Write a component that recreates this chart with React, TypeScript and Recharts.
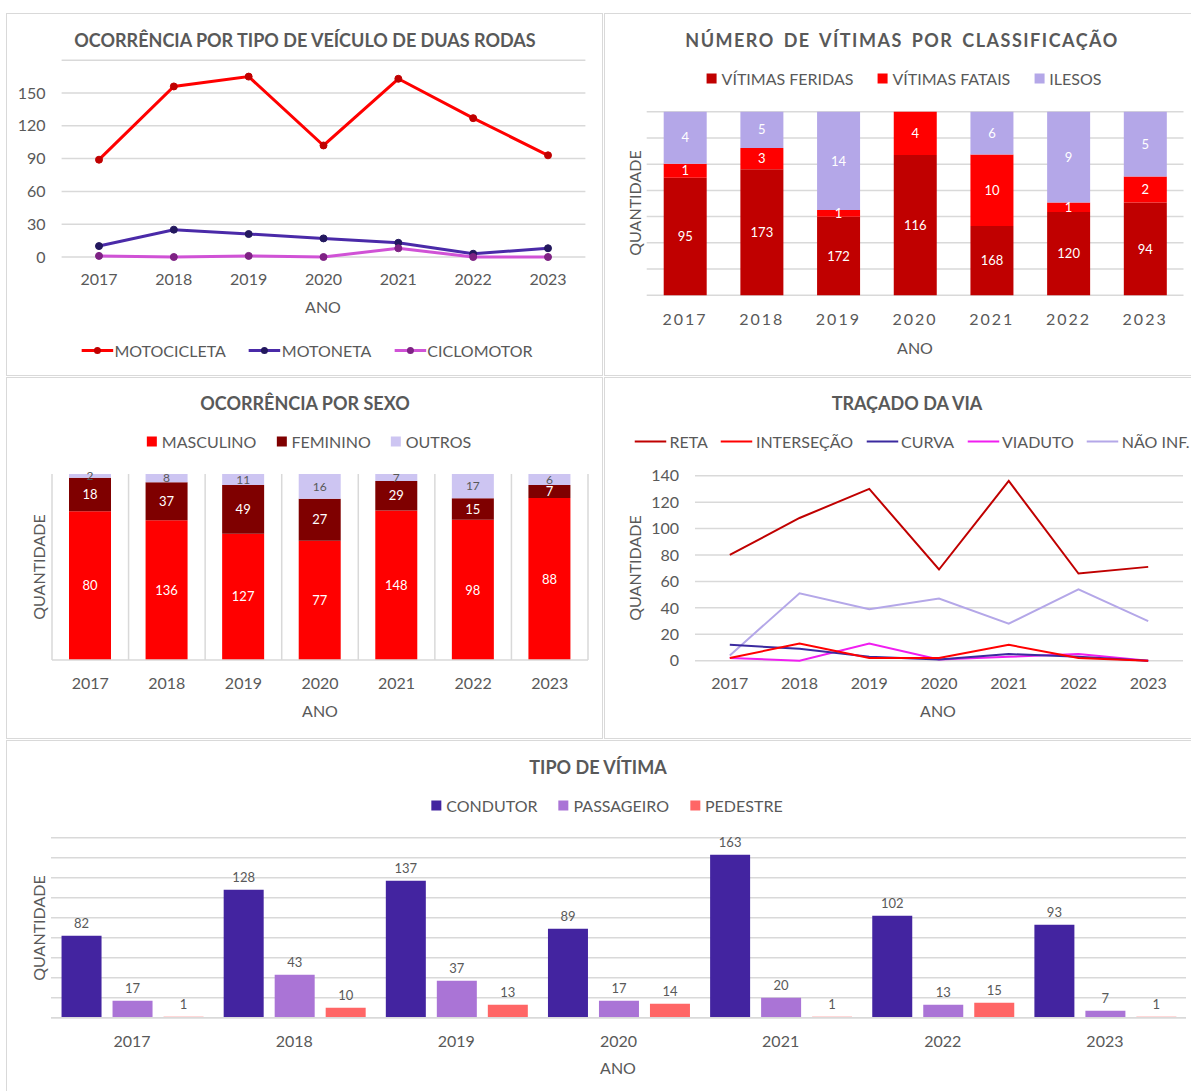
import React from 'react';
import { LineChart, Line, BarChart, Bar, XAxis, YAxis, CartesianGrid, LabelList } from 'recharts';

const ANOS = ['2017', '2018', '2019', '2020', '2021', '2022', '2023'];

// ocorrência por tipo de veículo
const motocicleta = [89, 156, 165, 102, 163, 127, 93];
const motoneta = [10, 25, 21, 17, 13, 3, 8];
const ciclomotor = [1, 0, 1, 0, 8, 0, 0];
const veiculoTicks = [0, 30, 60, 90, 120, 150];

// vítimas por classificação: altura de cada faixa (%) e rótulos
const feridasPct = [64.0, 68.6, 42.8, 76.4, 37.8, 45.4, 50.5];
const fataisPct = [7.6, 11.6, 3.6, 23.6, 38.9, 5.1, 14.2];
const ilesosPct = [28.4, 19.8, 53.6, 0, 23.3, 49.5, 35.3];
const feridasN = [95, 173, 172, 116, 168, 120, 94];
const fataisN = [1, 3, 1, 4, 10, 1, 2];
const ilesosN = [4, 5, 14, null, 6, 9, 5];
const classTicks = [0, 14.29, 28.57, 42.86, 57.14, 71.43, 85.71, 100];

// ocorrência por sexo
const masculino = [80, 136, 127, 77, 148, 98, 88];
const feminino = [18, 37, 49, 27, 29, 15, 7];
const outros = [2, 8, 11, 16, 7, 17, 6];

// traçado da via
const reta = [80, 108, 130, 69, 136, 66, 71];
const intersecao = [2, 13, 2, 2, 12, 2, 0];
const curva = [12, 9, 3, 1, 5, 3, 0];
const viaduto = [2, 0, 13, 1, 3, 5, 0];
const naoInf = [4, 51, 39, 47, 28, 54, 30];
const tracadoTicks = [0, 20, 40, 60, 80, 100, 120, 140];

// tipo de vítima
const condutor = [82, 128, 137, 89, 163, 102, 93];
const passageiro = [17, 43, 37, 17, 20, 13, 7];
const pedestre = [1, 10, 13, 14, 1, 15, 1];
const tipoTicks = [0, 20, 40, 60, 80, 100, 120, 140, 160, 180];

const veiculoData = ANOS.map((ano, i) => ({ ano, motocicleta: motocicleta[i], motoneta: motoneta[i], ciclomotor: ciclomotor[i] }));
const classData = ANOS.map((ano, i) => ({
  ano, feridas: feridasPct[i], fatais: fataisPct[i], ilesos: ilesosPct[i],
  feridasN: feridasN[i], fataisN: fataisN[i], ilesosN: ilesosN[i],
}));
const sexoData = ANOS.map((ano, i) => ({ ano, masculino: masculino[i], feminino: feminino[i], outros: outros[i] }));
const tracadoData = ANOS.map((ano, i) => ({
  ano, reta: reta[i], intersecao: intersecao[i], curva: curva[i], viaduto: viaduto[i], naoInf: naoInf[i],
}));
const tipoData = ANOS.map((ano, i) => ({ ano, condutor: condutor[i], passageiro: passageiro[i], pedestre: pedestre[i] }));

const TXT = '#595959';
const GRID = '#d9d9d9';
const FONT = 'Lato, "Open Sans", sans-serif';

type LegItem = { label: string; color: string; kind: 'square' | 'line' | 'lineDot'; dot?: string };

const LegendRow = ({ items, cx, cy, gap }: { items: LegItem[]; cx: number; cy: number; gap: number }) => (
  <div style={{ position: 'absolute', left: cx, top: cy, transform: 'translate(-50%, -50%)', display: 'flex', alignItems: 'center', gap, whiteSpace: 'nowrap', fontSize: 16, color: TXT }}>
    {items.map((it) => (
      <div key={it.label} style={{ display: 'flex', alignItems: 'center' }}>
        {it.kind === 'square' ? (
          <span style={{ display: 'inline-block', width: 10, height: 10, background: it.color, marginRight: 5 }} />
        ) : (
          <svg width={32} height={10} style={{ marginRight: it.kind === 'lineDot' ? 1 : 3 }}>
            <line x1={0} y1={5} x2={32} y2={5} stroke={it.color} strokeWidth={it.kind === 'lineDot' ? 3 : 2} />
            {it.kind === 'lineDot' && <circle cx={16} cy={5} r={3.5} fill={it.dot} />}
          </svg>
        )}
        <span>{it.label}</span>
      </div>
    ))}
  </div>
);

const Text = ({ x, y, children, bold, size = 16, spacing, rotate }: any) => (
  <div style={{
    position: 'absolute', left: x, top: y, whiteSpace: 'nowrap', color: TXT, fontSize: size,
    fontWeight: bold ? 700 : 400, letterSpacing: spacing, wordSpacing: spacing ? spacing * 2 : undefined,
    transform: `translate(-50%, -50%)${rotate ? ' rotate(-90deg)' : ''}`,
  }}>{children}</div>
);

const Panel = ({ left, top, width, height }: any) => (
  <div style={{ position: 'absolute', left, top, width, height, boxSizing: 'border-box', border: `1.5px solid ${GRID}` }} />
);

const at = (left: number, top: number): React.CSSProperties => ({ position: 'absolute', left, top });

const categoryBounds = ({ offset }: any) => {
  const n = ANOS.length;
  return Array.from({ length: n + 1 }, (_, i) => offset.left + (i * offset.width) / n);
};

export default function App() {
  const tick16 = { fill: TXT, fontSize: 16 };
  return (
    <div style={{ position: 'absolute', left: 0, top: 0, width: 1191, height: 1091, overflow: 'hidden', background: '#fff', fontFamily: FONT }}>
      <Panel left={6} top={13} width={597} height={363} />
      <Panel left={604} top={13} width={600} height={363} />
      <Panel left={6} top={377} width={597} height={362} />
      <Panel left={604} top={377} width={600} height={362} />
      <Panel left={6} top={740} width={1200} height={400} />

      {/* 1 - tipo de veículo */}
      <div style={at(6, 13)}>
        <LineChart width={598} height={364} data={veiculoData} margin={{ top: 47.2, right: 18.6, bottom: 90, left: 0 }}>
          <CartesianGrid stroke={GRID} strokeWidth={1.5} vertical={false} />
          <XAxis dataKey="ano" height={30} interval={0} axisLine={false} tickLine={false} tickSize={0} tickMargin={17} tick={tick16} padding={{ left: 37.4, right: 37.4 }} />
          <YAxis width={55.6} interval={0} domain={[0, 180]} ticks={veiculoTicks} axisLine={false} tickLine={false} tickSize={0} tickMargin={16} tick={tick16} />
          <Line dataKey="motocicleta" stroke="#ff0000" strokeWidth={3} dot={{ r: 3.5, fill: '#c00000', stroke: '#c00000', strokeWidth: 1 }} isAnimationActive={false} />
          <Line dataKey="motoneta" stroke="#4a2aa8" strokeWidth={3} dot={{ r: 3.5, fill: '#23185e', stroke: '#23185e', strokeWidth: 1 }} isAnimationActive={false} />
          <Line dataKey="ciclomotor" stroke="#d052d6" strokeWidth={3} dot={{ r: 3.5, fill: '#7e2284', stroke: '#7e2284', strokeWidth: 1 }} isAnimationActive={false} />
        </LineChart>
      </div>
      <Text x={305} y={40} bold size={18}>OCORRÊNCIA POR TIPO DE VEÍCULO DE DUAS RODAS</Text>
      <Text x={323} y={306}>ANO</Text>
      <LegendRow cx={307} cy={350} gap={23} items={[
        { label: 'MOTOCICLETA', color: '#ff0000', kind: 'lineDot', dot: '#c00000' },
        { label: 'MOTONETA', color: '#4a2aa8', kind: 'lineDot', dot: '#23185e' },
        { label: 'CICLOMOTOR', color: '#d052d6', kind: 'lineDot', dot: '#7e2284' },
      ]} />

      {/* 2 - vítimas por classificação */}
      <div style={at(604, 13)}>
        <BarChart width={590} height={364} data={classData} margin={{ top: 98.7, right: 10.5, bottom: 51.7, left: 42.7 }} barSize={43}>
          <CartesianGrid stroke={GRID} strokeWidth={1.5} vertical={false} />
          <XAxis dataKey="ano" height={30} interval={0} axisLine={false} tickLine={false} tickSize={0} tickMargin={18} tick={{ fill: TXT, fontSize: 16, letterSpacing: 2 }} />
          <YAxis hide interval={0} domain={[0, 100]} ticks={classTicks} />
          <Bar dataKey="feridas" stackId="c" fill="#c00000" isAnimationActive={false}>
            <LabelList dataKey="feridasN" position="center" fill="#fff" fontSize={13} />
          </Bar>
          <Bar dataKey="fatais" stackId="c" fill="#ff0000" isAnimationActive={false}>
            <LabelList dataKey="fataisN" position="center" fill="#fff" fontSize={13} />
          </Bar>
          <Bar dataKey="ilesos" stackId="c" fill="#b4a7e8" isAnimationActive={false}>
            <LabelList dataKey="ilesosN" position="center" fill="#fff" fontSize={13} />
          </Bar>
        </BarChart>
      </div>
      <Text x={902} y={40} bold size={18} spacing={1.5}>NÚMERO DE VÍTIMAS POR CLASSIFICAÇÃO</Text>
      <Text x={915} y={347}>ANO</Text>
      <Text x={634} y={203} rotate>QUANTIDADE</Text>
      <LegendRow cx={904} cy={78} gap={24} items={[
        { label: 'VÍTIMAS FERIDAS', color: '#c00000', kind: 'square' },
        { label: 'VÍTIMAS FATAIS', color: '#ff0000', kind: 'square' },
        { label: 'ILESOS', color: '#b4a7e8', kind: 'square' },
      ]} />

      {/* 3 - sexo */}
      <div style={at(6, 377)}>
        <BarChart width={598} height={363} data={sexoData} stackOffset="expand" margin={{ top: 97, right: 16, bottom: 50, left: 46 }} barSize={42}>
          <CartesianGrid stroke={GRID} strokeWidth={1.5} horizontal={false} verticalCoordinatesGenerator={categoryBounds} />
          <XAxis dataKey="ano" height={30} interval={0} axisLine={{ stroke: GRID, strokeWidth: 1.5 }} tickLine={false} tickSize={0} tickMargin={18} tick={tick16} />
          <YAxis hide domain={[0, 1]} />
          <Bar dataKey="masculino" stackId="s" fill="#ff0000" isAnimationActive={false}>
            <LabelList dataKey="masculino" position="center" fill="#fff" fontSize={13} />
          </Bar>
          <Bar dataKey="feminino" stackId="s" fill="#7f0000" isAnimationActive={false}>
            <LabelList dataKey="feminino" position="center" fill="#fff" fontSize={13} />
          </Bar>
          <Bar dataKey="outros" stackId="s" fill="#cdc5f2" isAnimationActive={false}>
            <LabelList dataKey="outros" position="center" fill={TXT} fontSize={12} />
          </Bar>
        </BarChart>
      </div>
      <Text x={305} y={403} bold size={18}>OCORRÊNCIA POR SEXO</Text>
      <Text x={320} y={710}>ANO</Text>
      <Text x={38} y={567} rotate>QUANTIDADE</Text>
      <LegendRow cx={309} cy={441} gap={20} items={[
        { label: 'MASCULINO', color: '#ff0000', kind: 'square' },
        { label: 'FEMININO', color: '#7f0000', kind: 'square' },
        { label: 'OUTROS', color: '#cdc5f2', kind: 'square' },
      ]} />

      {/* 4 - traçado da via */}
      <div style={at(604, 377)}>
        <LineChart width={590} height={363} data={tracadoData} margin={{ top: 98.7, right: 11, bottom: 49.3, left: 0 }}>
          <CartesianGrid stroke={GRID} strokeWidth={1.5} vertical={false} />
          <XAxis dataKey="ano" height={30} interval={0} axisLine={false} tickLine={false} tickSize={0} tickMargin={17} tick={tick16} padding={{ left: 34.8, right: 34.8 }} />
          <YAxis width={91} interval={0} domain={[0, 140]} ticks={tracadoTicks} axisLine={false} tickLine={false} tickSize={0} tickMargin={16} tick={tick16} />
          <Line dataKey="naoInf" stroke="#b4a7e8" strokeWidth={2} dot={false} isAnimationActive={false} />
          <Line dataKey="viaduto" stroke="#f01ef0" strokeWidth={2} dot={false} isAnimationActive={false} />
          <Line dataKey="curva" stroke="#3b2a9f" strokeWidth={2} dot={false} isAnimationActive={false} />
          <Line dataKey="intersecao" stroke="#ff0000" strokeWidth={2} dot={false} isAnimationActive={false} />
          <Line dataKey="reta" stroke="#c00000" strokeWidth={2} dot={false} isAnimationActive={false} />
        </LineChart>
      </div>
      <Text x={907} y={403} bold size={18}>TRAÇADO DA VIA</Text>
      <Text x={938} y={710}>ANO</Text>
      <Text x={634} y={568} rotate>QUANTIDADE</Text>
      <LegendRow cx={912} cy={441} gap={13} items={[
        { label: 'RETA', color: '#c00000', kind: 'line' },
        { label: 'INTERSEÇÃO', color: '#ff0000', kind: 'line' },
        { label: 'CURVA', color: '#3b2a9f', kind: 'line' },
        { label: 'VIADUTO', color: '#f01ef0', kind: 'line' },
        { label: 'NÃO INF.', color: '#b4a7e8', kind: 'line' },
      ]} />

      {/* 5 - tipo de vítima */}
      <div style={at(6, 740)}>
        <BarChart width={1188} height={351} data={tipoData} margin={{ top: 97.7, right: 8, bottom: 43.3, left: 45 }} barCategoryGap="6.5%" barGap={11}>
          <CartesianGrid stroke={GRID} strokeWidth={1.5} vertical={false} />
          <XAxis dataKey="ano" height={30} interval={0} axisLine={{ stroke: GRID, strokeWidth: 1.5 }} tickLine={false} tickSize={0} tickMargin={17.5} tick={tick16} />
          <YAxis hide interval={0} domain={[0, 180]} ticks={tipoTicks} />
          <Bar dataKey="condutor" fill="#4324a0" isAnimationActive={false}>
            <LabelList dataKey="condutor" position="top" offset={8} fill={TXT} fontSize={13} />
          </Bar>
          <Bar dataKey="passageiro" fill="#aa74d6" isAnimationActive={false}>
            <LabelList dataKey="passageiro" position="top" offset={8} fill={TXT} fontSize={13} />
          </Bar>
          <Bar dataKey="pedestre" fill="#ff6666" isAnimationActive={false}>
            <LabelList dataKey="pedestre" position="top" offset={8} fill={TXT} fontSize={13} />
          </Bar>
        </BarChart>
      </div>
      <Text x={598} y={767} bold size={18}>TIPO DE VÍTIMA</Text>
      <Text x={618} y={1067}>ANO</Text>
      <Text x={38} y={928} rotate>QUANTIDADE</Text>
      <LegendRow cx={607} cy={805} gap={21} items={[
        { label: 'CONDUTOR', color: '#4324a0', kind: 'square' },
        { label: 'PASSAGEIRO', color: '#aa74d6', kind: 'square' },
        { label: 'PEDESTRE', color: '#ff6666', kind: 'square' },
      ]} />
    </div>
  );
}
